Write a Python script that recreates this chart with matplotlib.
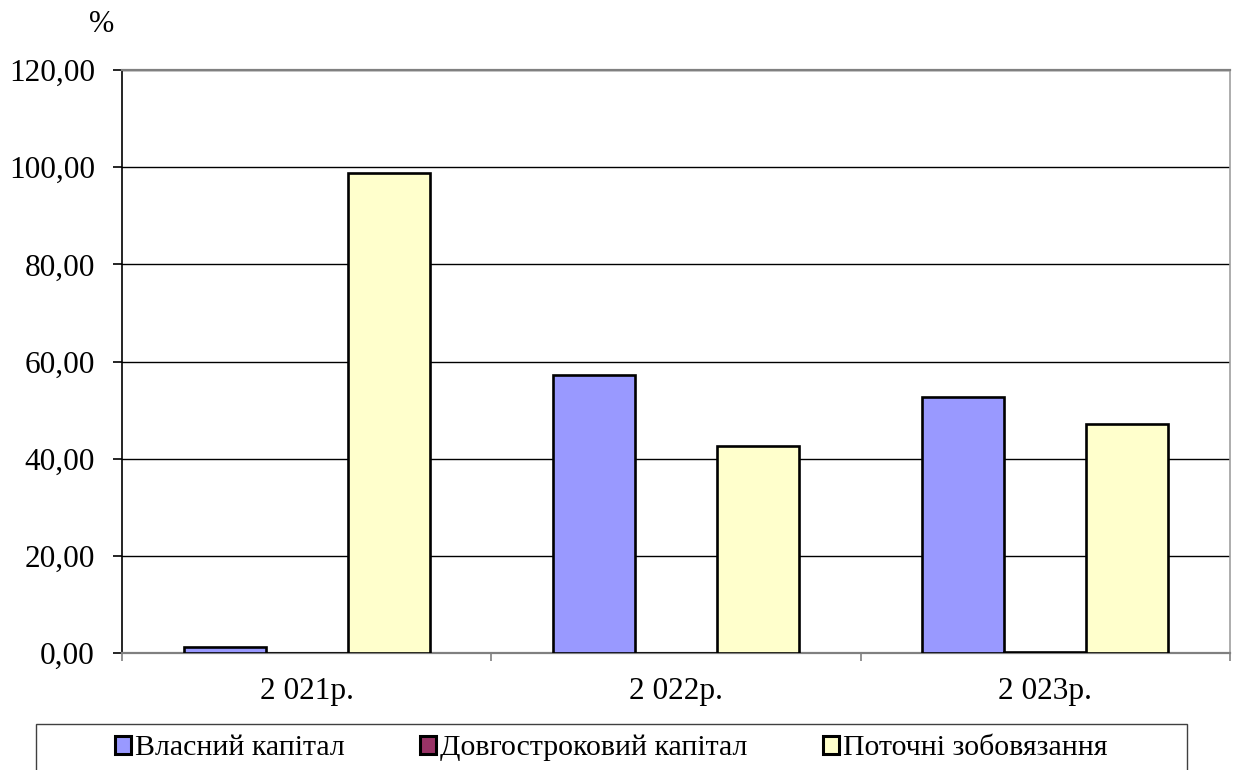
import numpy as np
import matplotlib.pyplot as plt
from matplotlib.patches import Rectangle

plt.rcParams['font.family'] = ['Liberation Serif', 'DejaVu Serif']

years = ["2 021р.", "2 022р.", "2 023р."]
series = ["Власний капітал", "Довгостроковий капітал", "Поточні зобовязання"]
vlasnyi = [1.2, 57.3, 52.6]
dovhostrokovyi = [0.0, 0.0, 0.2]
potochni = [98.8, 42.7, 47.2]
colors = ["#9999FF", "#993366", "#FFFFCC"]

fig = plt.figure(figsize=(12.35, 7.7), dpi=100)
ax = fig.add_axes([122 / 1235, 1 - 653 / 770, 1108 / 1235, 583 / 770])

x = np.arange(len(years))
width = 0.222
for i, (vals, name) in enumerate(zip([vlasnyi, dovhostrokovyi, potochni], series)):
    ax.bar(x + (i - 1) * width, vals, width, color=colors[i], edgecolor="black",
           linewidth=1.9, label=name, zorder=3)

ax.set_xlim(-0.5, 2.5)
ax.set_ylim(0, 120)
ax.set_yticks(np.arange(0, 121, 20))
ax.set_yticklabels([f"{v:.2f}".replace(".", ",") for v in np.arange(0, 121, 20)])
ax.yaxis.grid(True, color="black", linewidth=1.0, zorder=0)

ax.set_xticks(x)
ax.set_xticklabels(years)
ax.set_xticks([-0.5, 0.5, 1.5, 2.5], minor=True)
ax.tick_params(axis="x", which="major", length=0, pad=17, labelsize=22.5)
ax.tick_params(axis="x", which="minor", length=6, color="#808080", width=1.2)
ax.tick_params(axis="y", length=6.5, width=1.2, labelsize=22.5, pad=13)

ax.spines["left"].set_color("black")
ax.spines["left"].set_linewidth(1.2)
for s in ["bottom", "top"]:
    ax.spines[s].set_color("#808080")
    ax.spines[s].set_linewidth(1.6)
ax.spines["right"].set_color("#a0a0a0")
ax.spines["right"].set_linewidth(1.2)

fig.text(102 / 1235, 1 - 24 / 770, "%", fontsize=22, ha="center", va="center")

# рамка легенди
fig.patches.append(Rectangle((36 / 1235, -0.1), (1187 - 36) / 1235, 0.1 + 1 - 724 / 770,
                             transform=fig.transFigure, fill=False,
                             edgecolor="#404040", linewidth=1.0))
leg = fig.legend(loc="center", bbox_to_anchor=(611 / 1235, 1 - 748 / 770), ncol=3,
                 frameon=False, fontsize=21.5, handlelength=0.55, handleheight=0.55,
                 handletextpad=0.12, columnspacing=2.53, borderpad=0)
for h in leg.legend_handles:
    h.set_linewidth(2.2)

fig.savefig("out.png", dpi=100)
